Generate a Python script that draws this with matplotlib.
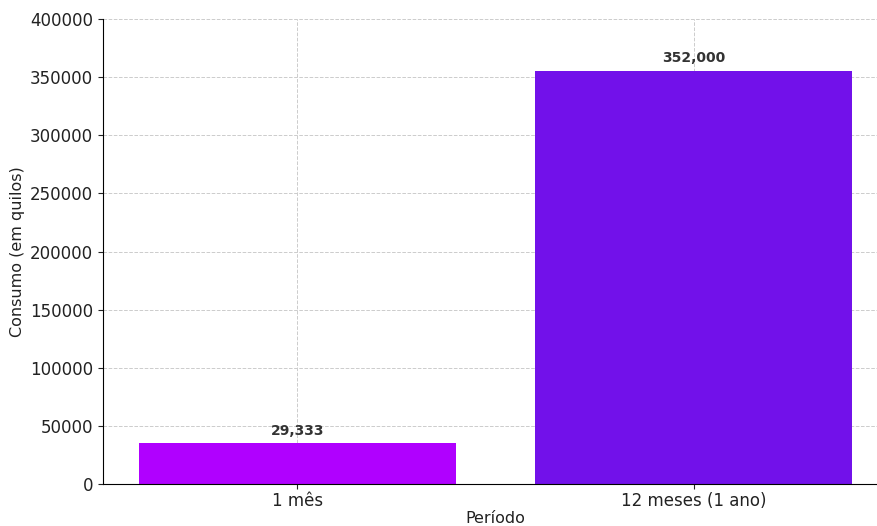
import matplotlib
matplotlib.use("Agg")
import matplotlib.pyplot as plt

# data
periods = ["1 mês", "12 meses (1 ano)"]
bar_heights = [35000, 355500]
bar_labels = ["29,333", "352,000"]
bar_colors = ["#b000ff", "#7211ea"]

fig = plt.figure(figsize=(8.77, 5.26), dpi=100)
ax = fig.add_axes([0.1174, 0.0798, 0.895, 0.884])

x_values = range(len(periods))
bars = ax.bar(x_values, bar_heights, width=0.8, color=bar_colors, zorder=2)

for bar, text in zip(bars, bar_labels):
    ax.annotate(text, (bar.get_x() + bar.get_width() / 2, bar.get_height()),
                xytext=(0, 4), textcoords="offset points", ha="center", va="bottom",
                fontsize=10, fontweight="bold", color="#333333")

ax.set_xticks(list(x_values))
ax.set_xticklabels(periods)
ax.set_xlim(-0.49, 1.49)
ax.set_ylim(0, 400000)
ax.set_yticks(range(0, 400001, 50000))
ax.tick_params(labelsize=12, colors="#222222")
ax.tick_params(axis="x", pad=2)
ax.set_xlabel("Período", fontsize=11.5, color="#222222", labelpad=1)
ax.set_ylabel("Consumo (em quilos)", fontsize=11.5, color="#222222")
ax.grid(True, linestyle="--", color="#cccccc", linewidth=0.7, zorder=0)
ax.set_axisbelow(True)
ax.spines["top"].set_visible(False)
ax.spines["right"].set_visible(False)

fig.savefig("out.png", dpi=100)
plt.close(fig)
